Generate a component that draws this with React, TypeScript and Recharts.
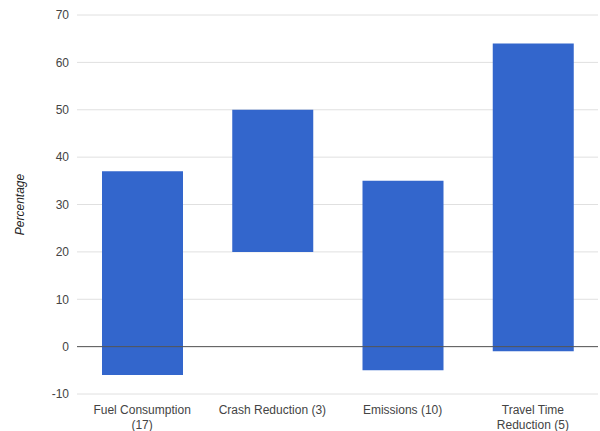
import { BarChart, Bar, XAxis, YAxis, CartesianGrid, ReferenceLine } from 'recharts';

const categories = ['Fuel Consumption (17)', 'Crash Reduction (3)', 'Emissions (10)', 'Travel Time Reduction (5)'];
const tickLines = [
  ['Fuel Consumption', '(17)'],
  ['Crash Reduction (3)'],
  ['Emissions (10)'],
  ['Travel Time', 'Reduction (5)'],
];
const lows = [-6, 20, -5, -1];
const highs = [37, 50, 35, 64];
const yTicks = [-10, 0, 10, 20, 30, 40, 50, 60, 70];

const data = categories.map((name, i) => ({ name, idx: i, range: [lows[i], highs[i]] }));

const FONT = '"Liberation Sans", Arial, sans-serif';

function CategoryTick(props: any) {
  const { x, y, payload } = props;
  const lines = tickLines[payload.index] || [payload.value];
  return (
    <text x={x} y={y} textAnchor="middle" fill="#444" fontSize={12} fontFamily={FONT}>
      {lines.map((l, i) => (
        <tspan key={i} x={x} dy={i === 0 ? 12 : 15}>
          {l}
        </tspan>
      ))}
    </text>
  );
}

export default function App() {
  return (
    <div style={{ position: 'absolute', left: 0, top: 0, background: '#fff' }}>
      <BarChart
        width={600}
        height={431}
        data={data}
        margin={{ top: 15, right: 2, left: 0, bottom: 0 }}
        barSize={81}
      >
        <CartesianGrid vertical={false} stroke="#e0e0e0" />
        <XAxis dataKey="name" axisLine={false} tickLine={false} height={37} tick={<CategoryTick />} interval={0} />
        <YAxis
          domain={[-10, 70]}
          ticks={yTicks}
          axisLine={false}
          tickLine={false}
          width={77}
          tick={{ fill: '#444', fontSize: 12, fontFamily: FONT }}
          label={{
            value: 'Percentage',
            angle: -90,
            position: 'insideLeft',
            offset: 20,
            style: { fill: '#222', fontSize: 12, fontStyle: 'italic', fontFamily: FONT, textAnchor: 'middle' },
          }}
        />
        <ReferenceLine y={0} stroke="#555" />
        <Bar dataKey="range" fill="#3366cc" isAnimationActive={false} />
      </BarChart>
    </div>
  );
}
